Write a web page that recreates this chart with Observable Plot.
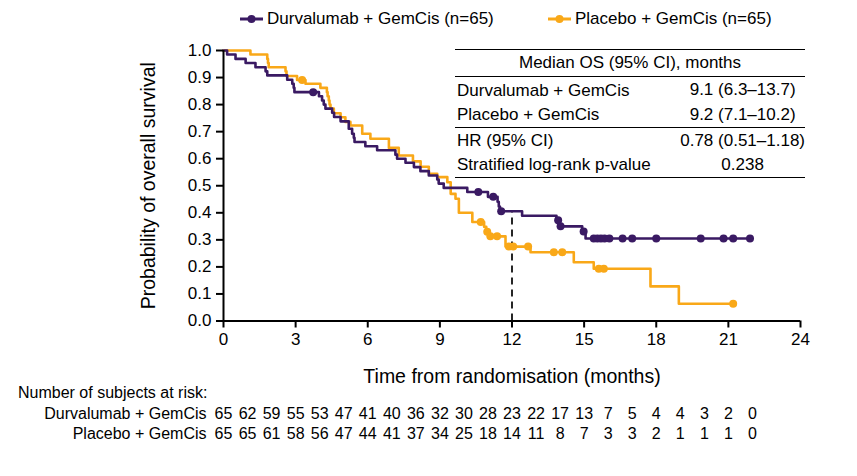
<!DOCTYPE html>
<html><head><meta charset="utf-8">
<script src="https://cdn.jsdelivr.net/npm/d3@7"></script>
<script src="https://cdn.jsdelivr.net/npm/@observablehq/plot@0.6"></script>
<style>
body{margin:0;background:#fff;font-family:"Liberation Sans",Arial,Helvetica,sans-serif;color:#000;}
#wrap{position:relative;width:857px;height:476px;overflow:hidden;background:#fff;}
#main,#risk{position:absolute;left:0;}
#main{top:0;} #risk{top:400px;}
.abs{position:absolute;white-space:nowrap;}
#stats{position:absolute;left:455px;top:49px;width:350px;font-size:17px;}
#stats table{border-collapse:collapse;width:100%;}
#stats td{padding:0 2px;line-height:20px;white-space:nowrap;}
#stats td.v{text-align:center;width:115px;padding:0;}
</style></head>
<body><div id="wrap"><div id="main"></div><div id="risk"></div></div>
<script>
// ---------- data ----------
const arms = ["Durvalumab + GemCis", "Placebo + GemCis"];
const armN = [65, 65];
const armColors = ["#3a1a63", "#f9a818"];

const durvaTime = [0, 0.15, 0.5, 0.92, 1.33, 1.75, 1.82, 2.65, 2.86, 2.92, 2.95, 3.97, 4.1, 4.17, 4.24, 4.52, 4.6, 4.87, 5.21, 5.35, 5.42, 5.45, 5.9, 6.39, 7.15, 7.22, 7.57, 7.92, 8.19, 8.54, 8.89, 8.95, 9.16, 10.14, 11.0, 11.4, 11.45, 11.5, 12.42, 13.85, 13.98, 14.92, 15.06, 21.9];
const durvaSurv = [1, 0.985, 0.969, 0.954, 0.938, 0.923, 0.908, 0.892, 0.877, 0.862, 0.846, 0.831, 0.815, 0.8, 0.785, 0.77, 0.754, 0.738, 0.711, 0.692, 0.677, 0.662, 0.646, 0.631, 0.615, 0.6, 0.585, 0.569, 0.554, 0.538, 0.523, 0.508, 0.492, 0.477, 0.459, 0.441, 0.423, 0.406, 0.389, 0.372, 0.35, 0.331, 0.305, 0.305];
const durvaCensorTime = [3.73, 10.6, 11.22, 11.55, 13.92, 14.02, 14.98, 15.4, 15.55, 15.7, 15.85, 16.05, 16.6, 17.0, 18.0, 19.85, 20.8, 21.2, 21.9];
const durvaCensorSurv = [0.846, 0.477, 0.459, 0.406, 0.372, 0.35, 0.331, 0.305, 0.305, 0.305, 0.305, 0.305, 0.305, 0.305, 0.305, 0.305, 0.305, 0.305, 0.305];

const placeboTime = [0, 1.12, 1.82, 1.85, 1.88, 2.58, 2.62, 3.06, 3.41, 4.03, 4.3, 4.33, 4.38, 4.41, 4.45, 4.59, 4.87, 5.07, 5.28, 5.77, 6.11, 6.88, 7.29, 7.88, 8.2, 8.54, 8.89, 9.31, 9.45, 9.65, 9.79, 10.35, 10.84, 10.93, 11.05, 11.73, 12.77, 14.57, 15.4, 17.76, 18.94, 21.2];
const placeboSurv = [1, 0.985, 0.969, 0.954, 0.938, 0.923, 0.906, 0.891, 0.877, 0.862, 0.846, 0.831, 0.815, 0.8, 0.785, 0.768, 0.753, 0.736, 0.723, 0.692, 0.674, 0.64, 0.612, 0.59, 0.57, 0.544, 0.532, 0.513, 0.47, 0.452, 0.4, 0.366, 0.348, 0.33, 0.313, 0.275, 0.254, 0.217, 0.193, 0.128, 0.064, 0.064];
const placeboCensorTime = [3.27, 10.7, 10.97, 11.1, 11.38, 11.87, 12.05, 12.67, 13.74, 14.09, 15.61, 15.82, 21.2];
const placeboCensorSurv = [0.891, 0.366, 0.33, 0.313, 0.313, 0.275, 0.275, 0.275, 0.254, 0.254, 0.193, 0.193, 0.064];

const landmarkMonth = 12;
const landmarkSurv = 0.406;

const xTicks = [0, 3, 6, 9, 12, 15, 18, 21, 24];
const yTicks = [0, 0.1, 0.2, 0.3, 0.4, 0.5, 0.6, 0.7, 0.8, 0.9, 1.0];

const riskMonths = [0, 1, 2, 3, 4, 5, 6, 7, 8, 9, 10, 11, 12, 13, 14, 15, 16, 17, 18, 19, 20, 21, 22];
const durvaRisk = [65, 62, 59, 55, 53, 47, 41, 40, 36, 32, 30, 28, 23, 22, 17, 13, 7, 5, 4, 4, 3, 2, 0];
const placeboRisk = [65, 65, 61, 58, 56, 47, 44, 41, 37, 34, 25, 18, 14, 11, 8, 7, 3, 3, 2, 1, 1, 1, 0];

const statHeader = "Median OS (95% CI), months";
const medianLabels = ["Durvalumab + GemCis", "Placebo + GemCis"];
const medianValues = ["9.1 (6.3–13.7)", "9.2 (7.1–10.2)"];
const testLabels = ["HR (95% CI)", "Stratified log-rank p-value"];
const testValues = ["0.78 (0.51–1.18)", "0.238"];

const xLabel = "Time from randomisation (months)";
const yLabel = "Probability of overall survival";
const riskTitle = "Number of subjects at risk:";

// ---------- build tables ----------
const durva = durvaTime.map((t, i) => ({t, s: durvaSurv[i]}));
const placebo = placeboTime.map((t, i) => ({t, s: placeboSurv[i]}));
const durvaC = durvaCensorTime.map((t, i) => ({t, s: durvaCensorSurv[i]}));
const placeboC = placeboCensorTime.map((t, i) => ({t, s: placeboCensorSurv[i]}));
const riskRows = [];
riskMonths.forEach((m, i) => {
  riskRows.push({m, arm: arms[0], n: durvaRisk[i]});
  riskRows.push({m, arm: arms[1], n: placeboRisk[i]});
});

const FONT = '"Liberation Sans", Arial, Helvetica, sans-serif';
const W = 857, ML = 223, MR = 57;

const main = Plot.plot({
  width: W, height: 476,
  marginTop: 50, marginBottom: 155.5, marginLeft: ML, marginRight: MR,
  style: {fontFamily: FONT, fontSize: "17px", color: "#000", background: "transparent", overflow: "visible"},
  x: {domain: [0, 24]},
  y: {domain: [0, 1]},
  marks: [
    Plot.ruleX([landmarkMonth], {y1: 0, y2: landmarkSurv, stroke: "#000", strokeWidth: 1.7, strokeDasharray: "7,5"}),
    Plot.line(placebo, {x: "t", y: "s", curve: "step-after", stroke: armColors[1], strokeWidth: 2.6}),
    Plot.line(durva, {x: "t", y: "s", curve: "step-after", stroke: armColors[0], strokeWidth: 2.6}),
    Plot.dot(placeboC, {x: "t", y: "s", r: 4, fill: armColors[1], stroke: "none"}),
    Plot.dot(durvaC, {x: "t", y: "s", r: 4, fill: armColors[0], stroke: "none"}),
    Plot.ruleX([0], {y1: 0, y2: 1, stroke: "#000", strokeWidth: 2}),
    Plot.ruleY([0], {x1: 0, x2: 24, stroke: "#000", strokeWidth: 2}),
    Plot.axisX({ticks: xTicks, tickSize: 7, tickPadding: 5, strokeWidth: 2, fontSize: 17,
      label: xLabel, labelAnchor: "center", labelOffset: 62, labelArrow: "none"}),
    Plot.axisY({ticks: yTicks, tickFormat: d3.format(".1f"), tickSize: 7, tickPadding: 5, strokeWidth: 2, fontSize: 17,
      label: yLabel, labelAnchor: "center", labelOffset: 82, labelArrow: "none"})
  ]
});
main.querySelectorAll('[aria-label="x-axis label"] text, [aria-label="y-axis label"] text').forEach(t => t.setAttribute("font-size", "19.5"));
document.getElementById("main").appendChild(main);

const risk = Plot.plot({
  width: W, height: 46,
  marginTop: 3, marginBottom: 3, marginLeft: ML, marginRight: MR,
  style: {fontFamily: FONT, fontSize: "16px", color: "#000", background: "transparent", overflow: "visible"},
  x: {domain: [0, 24], axis: null},
  y: {domain: arms, padding: 0.5, axis: null},
  marks: [
    Plot.text(riskRows, {x: "m", y: "arm", text: "n", fontSize: 16, fill: "#000"}),
    Plot.axisY({tickSize: 0, tickPadding: 17, fontSize: 16, label: null})
  ]
});
document.getElementById("risk").appendChild(risk);

const wrap = document.getElementById("wrap");
// risk title
const rt = document.createElement("div");
rt.className = "abs"; rt.textContent = riskTitle;
Object.assign(rt.style, {left: "18px", top: "383px", fontSize: "16px", lineHeight: "20px"});
wrap.appendChild(rt);

// legend
const legendX = [240, 548];
arms.forEach((a, i) => {
  const sw = document.createElementNS("http://www.w3.org/2000/svg", "svg");
  sw.setAttribute("width", 24); sw.setAttribute("height", 20);
  sw.innerHTML = `<line x1="0" x2="23" y1="10" y2="10" stroke="${armColors[i]}" stroke-width="3"/><circle cx="11.5" cy="10" r="4" fill="${armColors[i]}"/>`;
  Object.assign(sw.style, {position: "absolute", left: legendX[i] + "px", top: "9px"});
  wrap.appendChild(sw);
  const t = document.createElement("div");
  t.className = "abs"; t.textContent = `${a} (n=${armN[i]})`;
  Object.assign(t.style, {left: (legendX[i] + 27) + "px", top: "9px", fontSize: "17px", lineHeight: "20px"});
  wrap.appendChild(t);
});

// stats table
const st = document.createElement("div"); st.id = "stats";
let html = `<table><tr style="border-top:1.5px solid #000;border-bottom:1.5px solid #000"><td colspan="2" style="text-align:center;height:26px">${statHeader}</td></tr>`;
medianLabels.forEach((l, i) => {
  html += `<tr><td style="height:24px;${i===0?'padding-top:2px':''}">${l}</td><td class="v">${medianValues[i]}</td></tr>`;
});
html += `<tr style="border-top:1.5px solid #000"><td colspan="2" style="height:1px;padding:0"></td></tr>`;
testLabels.forEach((l, i) => {
  html += `<tr style="${i===1?'border-bottom:1.5px solid #000':''}"><td style="height:24px">${l}</td><td class="v">${testValues[i]}</td></tr>`;
});
html += `</table>`;
st.innerHTML = html;
wrap.appendChild(st);
</script>
</body></html>
